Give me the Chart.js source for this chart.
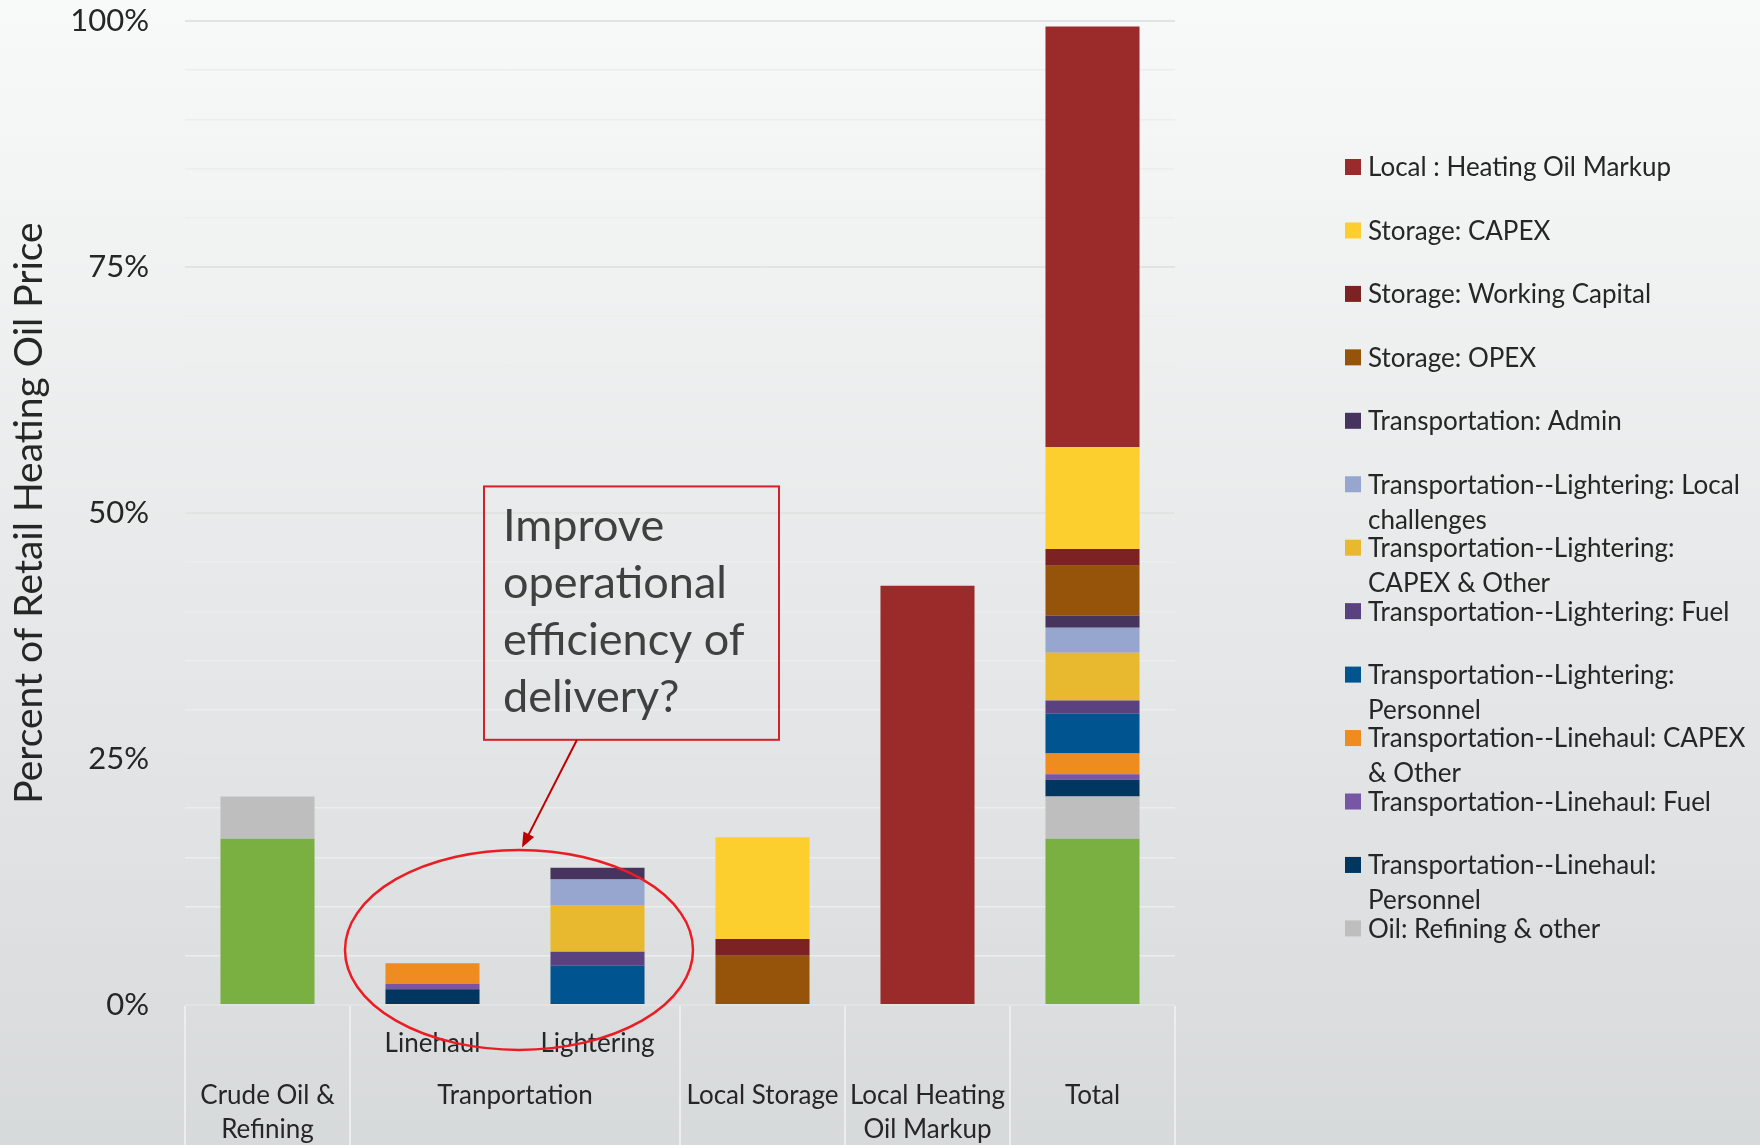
<!DOCTYPE html>
<html>
<head>
<meta charset="utf-8">
<script src="https://cdn.jsdelivr.net/npm/chart.js@4.4.0/dist/chart.umd.min.js"></script>
<style>
  html, body { margin: 0; padding: 0; }
  body { width: 1760px; height: 1145px; overflow: hidden; background: linear-gradient(#f8f9f9, #d7dadb); }
  #wrap { position: relative; width: 1760px; height: 1145px; }
</style>
</head>
<body>
<div id="wrap"><canvas id="costChart"></canvas></div>
<script>
// Breakdown of the retail heating oil price, stacked by cost component.
var categories = ['Crude Oil & Refining', 'Linehaul', 'Lightering', 'Local Storage', 'Local Heating Oil Markup', 'Total'];
var subLabels  = ['', 'Linehaul', 'Lightering', '', '', ''];
var groupLabels = [['Crude Oil &', 'Refining'], ['Tranportation'], ['Local Storage'], ['Local Heating', 'Oil Markup'], ['Total']];
var groupSpans  = [1, 2, 1, 1, 1];
var yTickLabels = [0, 25, 50, 75, 100];

// series, bottom of the stack first (% of retail price)
var crudeOil    = [16.9, null, null, null, null, 16.9];
var refining    = [4.3, null, null, null, null, 4.3];
var lhPersonnel = [null, 1.6, null, null, null, 1.7];
var lhFuel      = [null, 0.55, null, null, null, 0.55];
var lhCapex     = [null, 2.1, null, null, null, 2.1];
var ltPersonnel = [null, null, 4.0, null, null, 4.05];
var ltFuel      = [null, null, 1.4, null, null, 1.35];
var ltCapex     = [null, null, 4.75, null, null, 4.85];
var ltLocal     = [null, null, 2.6, null, null, 2.55];
var trAdmin     = [null, null, 1.2, null, null, 1.2];
var stOpex      = [null, null, null, 5.0, null, 5.1];
var stWorking   = [null, null, null, 1.7, null, 1.7];
var stCapex     = [null, null, null, 10.35, null, 10.35];
var markup      = [null, null, null, null, 42.6, 42.75];

var seriesNames = [
  'Oil: Crude', 'Oil: Refining & other',
  'Transportation--Linehaul: Personnel', 'Transportation--Linehaul: Fuel', 'Transportation--Linehaul: CAPEX & Other',
  'Transportation--Lightering: Personnel', 'Transportation--Lightering: Fuel', 'Transportation--Lightering: CAPEX & Other',
  'Transportation--Lightering: Local challenges', 'Transportation: Admin',
  'Storage: OPEX', 'Storage: Working Capital', 'Storage: CAPEX', 'Local : Heating Oil Markup'
];
var seriesValues = [crudeOil, refining, lhPersonnel, lhFuel, lhCapex, ltPersonnel, ltFuel, ltCapex, ltLocal, trAdmin, stOpex, stWorking, stCapex, markup];
var legendHidden = ['Oil: Crude'];

var annotationLines = ['Improve', 'operational', 'efficiency of', 'delivery?'];

var COLORS = [
  '#7ab042', '#bebebe',
  '#00365f', '#7756a6', '#ef8c1f',
  '#00548f', '#5a4180', '#e8b82e',
  '#97a6cf', '#46345f',
  '#96540a', '#7d2222', '#fccf2f', '#9b2b2b'
];

var FONT = 'Lato, "Open Sans", sans-serif';
var TEXT = '#262626';

var datasets = seriesNames.map(function (name, i) {
  return {
    label: name,
    data: seriesValues[i],
    backgroundColor: COLORS[i],
    borderWidth: 0,
    stack: 'price',
    barPercentage: 0.57,
    categoryPercentage: 1.0
  };
});

function wrapText(ctx, text, maxWidth) {
  var words = text.split(' '), lines = [], cur = '';
  words.forEach(function (w) {
    var test = cur ? cur + ' ' + w : w;
    if (cur && ctx.measureText(test).width > maxWidth) { lines.push(cur); cur = w; }
    else cur = test;
  });
  if (cur) lines.push(cur);
  return lines;
}

// two-level category axis: group names and separators under the sub labels
var groupAxis = {
  id: 'groupAxis',
  afterDraw: function (chart) {
    var ctx = chart.ctx, x = chart.scales.x, area = chart.chartArea;
    var half = (x.getPixelForValue(1) - x.getPixelForValue(0)) / 2;
    ctx.save();
    ctx.strokeStyle = '#eceeee';
    ctx.lineWidth = 2;
    ctx.font = '26px ' + FONT;
    ctx.fillStyle = TEXT;
    ctx.textAlign = 'center';
    ctx.textBaseline = 'middle';
    var start = 0;
    var edges = [x.getPixelForValue(0) - half];
    groupSpans.forEach(function (span, g) {
      var left = x.getPixelForValue(start) - half;
      var right = x.getPixelForValue(start + span - 1) + half;
      edges.push(right);
      var cx = (left + right) / 2;
      groupLabels[g].forEach(function (line, k) {
        ctx.fillText(line, cx, area.bottom + 91 + k * 34);
      });
      start += span;
    });
    edges.forEach(function (ex) {
      ctx.beginPath();
      ctx.moveTo(ex, area.bottom + 1);
      ctx.lineTo(ex, chart.height);
      ctx.stroke();
    });
    ctx.restore();
  }
};

// legend on the right, top of the stack first, long names wrapped
var sideLegend = {
  id: 'sideLegend',
  afterDraw: function (chart) {
    var ctx = chart.ctx;
    ctx.save();
    ctx.font = '26px ' + FONT;
    ctx.textBaseline = 'middle';
    ctx.textAlign = 'left';
    var row = 0;
    for (var i = chart.data.datasets.length - 1; i >= 0; i--) {
      var ds = chart.data.datasets[i];
      if (legendHidden.indexOf(ds.label) >= 0) continue;
      var y = 167 + row * 63.45;
      ctx.fillStyle = ds.backgroundColor;
      ctx.fillRect(1345, y - 8, 16, 16);
      ctx.fillStyle = TEXT;
      wrapText(ctx, ds.label, 386).forEach(function (line, k) {
        ctx.fillText(line, 1368, y + 1 + k * 35);
      });
      row++;
    }
    ctx.restore();
  }
};

// callout box, arrow and ring around the transportation bars
var callout = {
  id: 'callout',
  afterDraw: function (chart) {
    var ctx = chart.ctx, x = chart.scales.x, y = chart.scales.y;
    var mid = (x.getPixelForValue(1) + x.getPixelForValue(2)) / 2;
    ctx.save();
    // ring
    ctx.strokeStyle = '#ec1c24';
    ctx.lineWidth = 2.5;
    ctx.beginPath();
    ctx.ellipse(mid + 4, y.getPixelForValue(5.6), 174, 100, 0, 0, Math.PI * 2);
    ctx.stroke();
    // box
    var top = y.getPixelForValue(52.7), bottom = y.getPixelForValue(26.95);
    ctx.strokeStyle = '#d42028';
    ctx.lineWidth = 2;
    ctx.strokeRect(mid - 31, top, 295, bottom - top);
    ctx.fillStyle = '#404040';
    ctx.font = '45px ' + FONT;
    ctx.textBaseline = 'middle';
    ctx.textAlign = 'left';
    annotationLines.forEach(function (line, k) {
      ctx.fillText(line, mid - 12, top + 40 + k * 57);
    });
    // arrow
    var x0 = mid + 62, y0 = bottom, x1 = mid + 7, y1 = y.getPixelForValue(16.0);
    var ang = Math.atan2(y1 - y0, x1 - x0);
    ctx.strokeStyle = '#c00000';
    ctx.fillStyle = '#c00000';
    ctx.lineWidth = 2;
    ctx.beginPath();
    ctx.moveTo(x0, y0);
    ctx.lineTo(x1 - 12 * Math.cos(ang), y1 - 12 * Math.sin(ang));
    ctx.stroke();
    ctx.beginPath();
    ctx.moveTo(x1, y1);
    ctx.lineTo(x1 - 15 * Math.cos(ang) + 6 * Math.sin(ang), y1 - 15 * Math.sin(ang) - 6 * Math.cos(ang));
    ctx.lineTo(x1 - 15 * Math.cos(ang) - 6 * Math.sin(ang), y1 - 15 * Math.sin(ang) + 6 * Math.cos(ang));
    ctx.closePath();
    ctx.fill();
    ctx.restore();
  }
};

Chart.defaults.font.family = FONT;
Chart.defaults.color = TEXT;

new Chart(document.getElementById('costChart'), {
  type: 'bar',
  data: { labels: categories, datasets: datasets },
  plugins: [groupAxis, sideLegend, callout],
  options: {
    responsive: true,
    maintainAspectRatio: false,
    animation: false,
    layout: { padding: { top: 21, right: 585, left: 0, bottom: 0 } },
    plugins: {
      legend: { display: false },
      tooltip: { enabled: false }
    },
    scales: {
      x: {
        stacked: true,
        grid: { display: false },
        border: { display: false },
        ticks: {
          autoSkip: false,
          maxRotation: 0,
          padding: 15,
          font: { size: 26 },
          callback: function (v, i) { return subLabels[i]; }
        },
        afterFit: function (s) { s.height = 140; s.paddingLeft = 0; s.paddingRight = 0; }
      },
      y: {
        stacked: true,
        min: 0,
        max: 100,
        border: { display: false },
        grid: {
          drawTicks: false,
          color: function (c) { return c.tick && c.tick.value % 25 === 0 ? '#e2e4e4' : '#eceeee'; },
          lineWidth: function (c) { return c.tick && c.tick.value % 25 === 0 ? 2 : 1.5; }
        },
        ticks: {
          stepSize: 5,
          padding: 36,
          font: { size: 31 },
          callback: function (v) { return yTickLabels.indexOf(v) >= 0 ? v + '%' : ''; }
        },
        title: {
          display: true,
          text: 'Percent of Retail Heating Oil Price',
          font: { size: 39 },
          padding: { top: 6, bottom: 0 }
        },
        afterFit: function (s) { s.width = 185; s.paddingTop = 0; s.paddingBottom = 0; }
      }
    }
  }
});
</script>
</body>
</html>
